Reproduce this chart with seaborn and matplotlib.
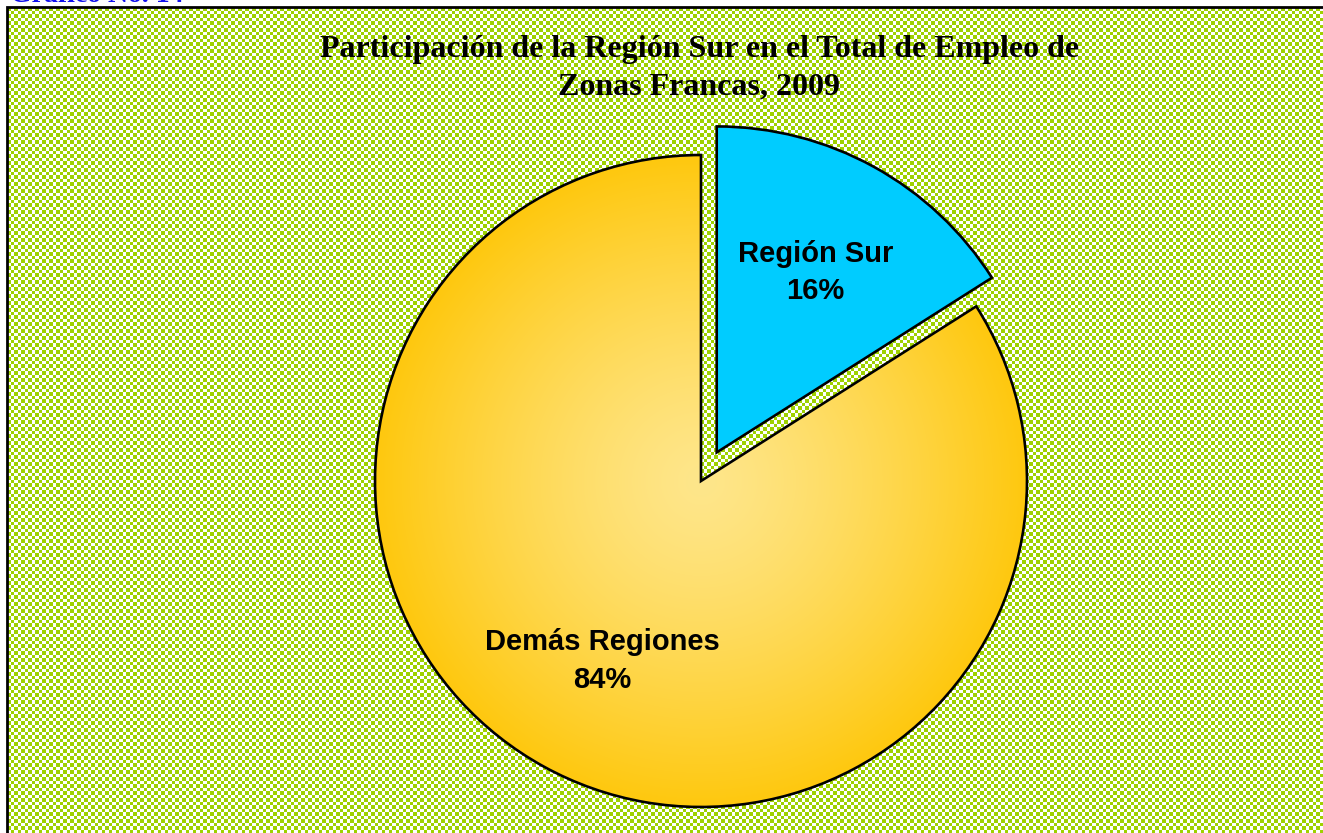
import numpy as np
import matplotlib
matplotlib.use('Agg')
import matplotlib.pyplot as plt
import seaborn as sns
from matplotlib.patches import Rectangle

# data
regions = ['Región Sur', 'Demás Regiones']
shares = [16, 84]
explode_frac = [0.1, 0.0]
title = 'Participación de la Región Sur en el Total de Empleo de\nZonas Francas, 2009'
caption = 'Gráfico No. 14'

sns.set_theme(style='white')
plt.rcParams['font.family'] = ['Liberation Sans', 'DejaVu Sans']

W, H = 1323, 833
fig = plt.figure(figsize=(W / 100, H / 100), dpi=100)
fig.patch.set_facecolor('white')
ax = fig.add_axes([0, 0, 1, 1])

# checkered green background inside the frame
yy, xx = np.mgrid[0:H, 0:W]
cells = ((xx * 2 // 7) + (yy * 2 // 7)) % 2
green = np.array([0.62, 0.82, 0.0])
bg = np.where(cells[..., None] == 0, green, np.ones(3))
bg[:8, :] = 1.0
bg[:, :7] = 1.0
ax.imshow(bg, extent=(0, W, 0, H), origin='upper', zorder=0, interpolation='nearest')
ax.add_patch(Rectangle((7, -10), W + 10, H - 7 + 10, fill=False,
                       edgecolor='black', lw=2, zorder=1))

# pie (explode given in data units = fraction of radius)
center = (701, H - 481)
radius = 326
wedges, texts, autotexts = ax.pie(
    shares, explode=[e * radius for e in explode_frac], startangle=90,
    counterclock=False, center=center, radius=radius,
    colors=['#00ccff', 'none'], autopct='%d%%', pctdistance=0.63,
    wedgeprops=dict(edgecolor='black', linewidth=1.9, zorder=3),
    frame=True)
ax.set_xlim(0, W)
ax.set_ylim(0, H)
ax.set_aspect('equal')
ax.axis('off')

# radial gradient fill for the large slice
r = np.hypot(xx - center[0], (H - yy) - center[1]) / radius
r = np.clip(r, 0, 1) ** 1.3
light = np.array([0.996, 0.902, 0.545])
dark = np.array([1.0, 0.784, 0.055])
grad = light + (dark - light) * r[..., None]
im = ax.imshow(grad, extent=(0, W, 0, H), origin='upper', zorder=2,
               interpolation='bilinear')
im.set_clip_path(wedges[1])

for t, name, val in zip(autotexts, regions, shares):
    t.set_text(f'{name}\n{val}%')
    t.set_fontsize(21)
    t.set_fontweight('bold')
    t.set_color('black')
    t.set_linespacing(1.45)
    t.set_zorder(5)

ax.text(W / 2 + 38, H - 68, title, ha='center', va='center',
        fontsize=23, fontweight='bold', family=['Liberation Serif'],
        color='black', linespacing=1.4, zorder=5)
ax.text(10, H - 2, caption, ha='left', va='baseline', fontsize=20,
        fontweight='bold', family=['Liberation Serif'], color='#1010ee', zorder=5)

fig.savefig('out.png', dpi=100)
